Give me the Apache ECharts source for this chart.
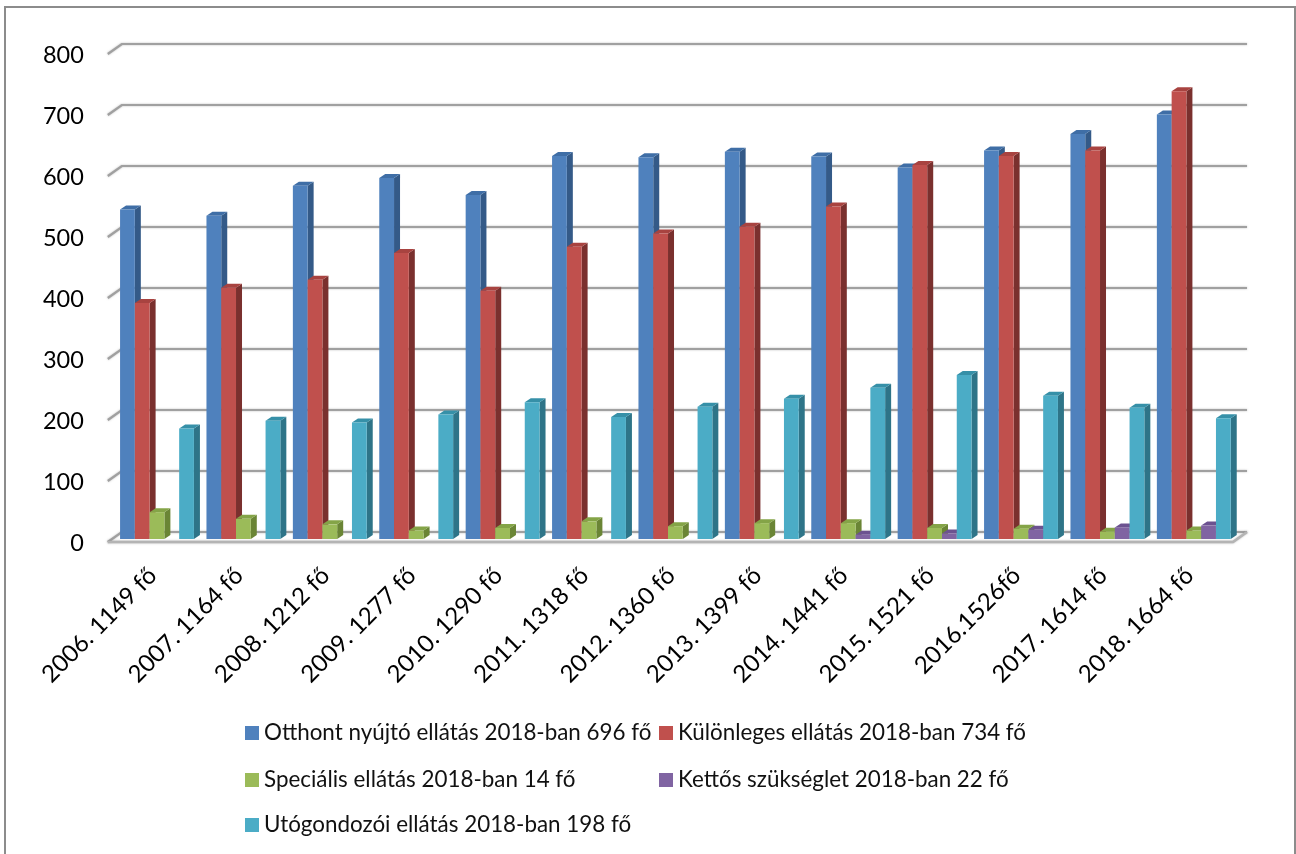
<!DOCTYPE html>
<html><head><meta charset="utf-8">
<style>html,body{margin:0;padding:0;background:#fff}#c{width:1296px;height:854px}</style>
<script src="https://cdn.jsdelivr.net/npm/echarts@6/dist/echarts.min.js"></script>
</head><body><div id="c"></div>
<script>
const categories = ['2006. 1149 fő','2007. 1164 fő','2008. 1212 fő','2009. 1277 fő','2010. 1290 fő','2011. 1318 fő','2012. 1360 fő','2013. 1399 fő','2014. 1441 fő','2015. 1521 fő','2016.1526fő','2017. 1614 fő','2018. 1664 fő'];
const otthont = [540,530,579,592,564,628,626,635,627,609,637,664,696];
const kulonleges = [387,412,425,469,407,479,501,512,545,613,628,637,734];
const specialis = [44,33,24,14,18,29,21,26,26,18,17,12,14];
const kettos = [0,0,0,0,0,0,0,0,7,9,15,19,22];
const utogondozoi = [181,194,191,204,224,200,217,230,248,269,235,215,198];
const yTicks = [0,100,200,300,400,500,600,700,800];
const names = ['Otthont nyújtó ellátás 2018-ban 696 fő','Különleges ellátás 2018-ban 734 fő','Speciális ellátás 2018-ban 14 fő','Kettős szükséglet 2018-ban 22 fő','Utógondozói ellátás 2018-ban 198 fő'];
const front = ['#4F81BD','#C0504D','#9BBB59','#8064A2','#4BACC6'];
const side = ['#345a88','#7a302e','#6a8535','#56407a','#2e7488'];
const topc = ['#3f6ea6','#a84340','#84a447','#6c5290','#3690a8'];
const values = [otthont,kulonleges,specialis,kettos,utogondozoi];

function barSeries(s){
  return {
    type:'custom', name:names[s], silent:true, z:3+s,
    itemStyle:{color:front[s]},
    data:values[s].map((v,i)=>[i,v]),
    encode:{x:0,y:1},
    renderItem(params,api){
      const v=api.value(1); if(!v) return null;
      const c=api.coord([api.value(0),v]), b=api.coord([api.value(0),0]);
      const band=api.size([1,0])[0], w=band*0.171;
      const x=c[0]+(s-2.5)*w, y=c[1], y0=b[1], dx=6, dy=4;
      const poly=(pts,fill)=>({type:'polygon',shape:{points:pts},style:{fill:fill},silent:true});
      return {type:'group',children:[
        poly([[x+w,y],[x+w+dx,y-dy],[x+w+dx,y0-dy],[x+w,y0]],side[s]),
        poly([[x,y],[x+dx,y-dy],[x+w+dx,y-dy],[x+w,y]],topc[s]),
        poly([[x,y],[x+w,y],[x+w,y0],[x,y0]],front[s])
      ]};
    }
  };
}
const gridSeries={
  type:'custom', silent:true, z:1, data:yTicks.map(v=>[0,v]), encode:{x:0,y:1},
  renderItem(params,api){
    const p=api.coord([0,api.value(1)]), cs=params.coordSys, y=p[1];
    const st={stroke:'#a0a0a0',lineWidth:2.2,fill:null,shadowBlur:2,shadowColor:'rgba(120,120,120,.5)'};
    const kids=[{type:'polyline',shape:{points:[[cs.x-6,y+3],[cs.x+8,y-7],[cs.x+cs.width+10,y-7]]},style:st}];
    if(api.value(1)===0) kids.push({type:'polyline',shape:{points:[[cs.x-6,y+3],[cs.x+cs.width-4,y+3],[cs.x+cs.width+10,y-7]]},style:{...st,stroke:'#b4b4b4',lineWidth:2.6}});
    return {type:'group',children:kids};
  }
};
const legendPos=[[245,722],[659,722],[245,769],[659,769],[245,814]];
const chart=echarts.init(document.getElementById('c'),null,{renderer:'canvas'});
chart.setOption({
  animation:false, backgroundColor:'#fff',
  graphic:[{type:'rect',silent:true,z:0,shape:{x:5,y:7,width:1290,height:870},style:{fill:'none',stroke:'#8c8c8c',lineWidth:2}}],
  grid:{left:113.8,top:51,width:1123.2,height:488},
  legend:names.map((n,i)=>({data:[n],left:legendPos[i][0],top:legendPos[i][1],padding:0,icon:'rect',itemWidth:14,itemHeight:14,itemGap:5,selectedMode:false,
    textStyle:{fontFamily:'Lato',fontSize:22.4,color:'#111'}})),
  xAxis:{type:'category',data:categories,axisLine:{show:false},axisTick:{show:false},splitLine:{show:false},
    axisLabel:{interval:0,rotate:45,margin:37,fontFamily:'Lato',fontSize:24,color:'#000',verticalAlign:'bottom',lineHeight:12}},
  yAxis:{type:'value',min:0,max:800,interval:100,axisLine:{show:false},axisTick:{show:false},splitLine:{show:false},
    axisLabel:{margin:30,fontFamily:'Lato',fontSize:23.5,color:'#000',verticalAlign:'top',lineHeight:8}},
  series:[gridSeries,...values.map((_,s)=>barSeries(s))]
});
</script></body></html>
